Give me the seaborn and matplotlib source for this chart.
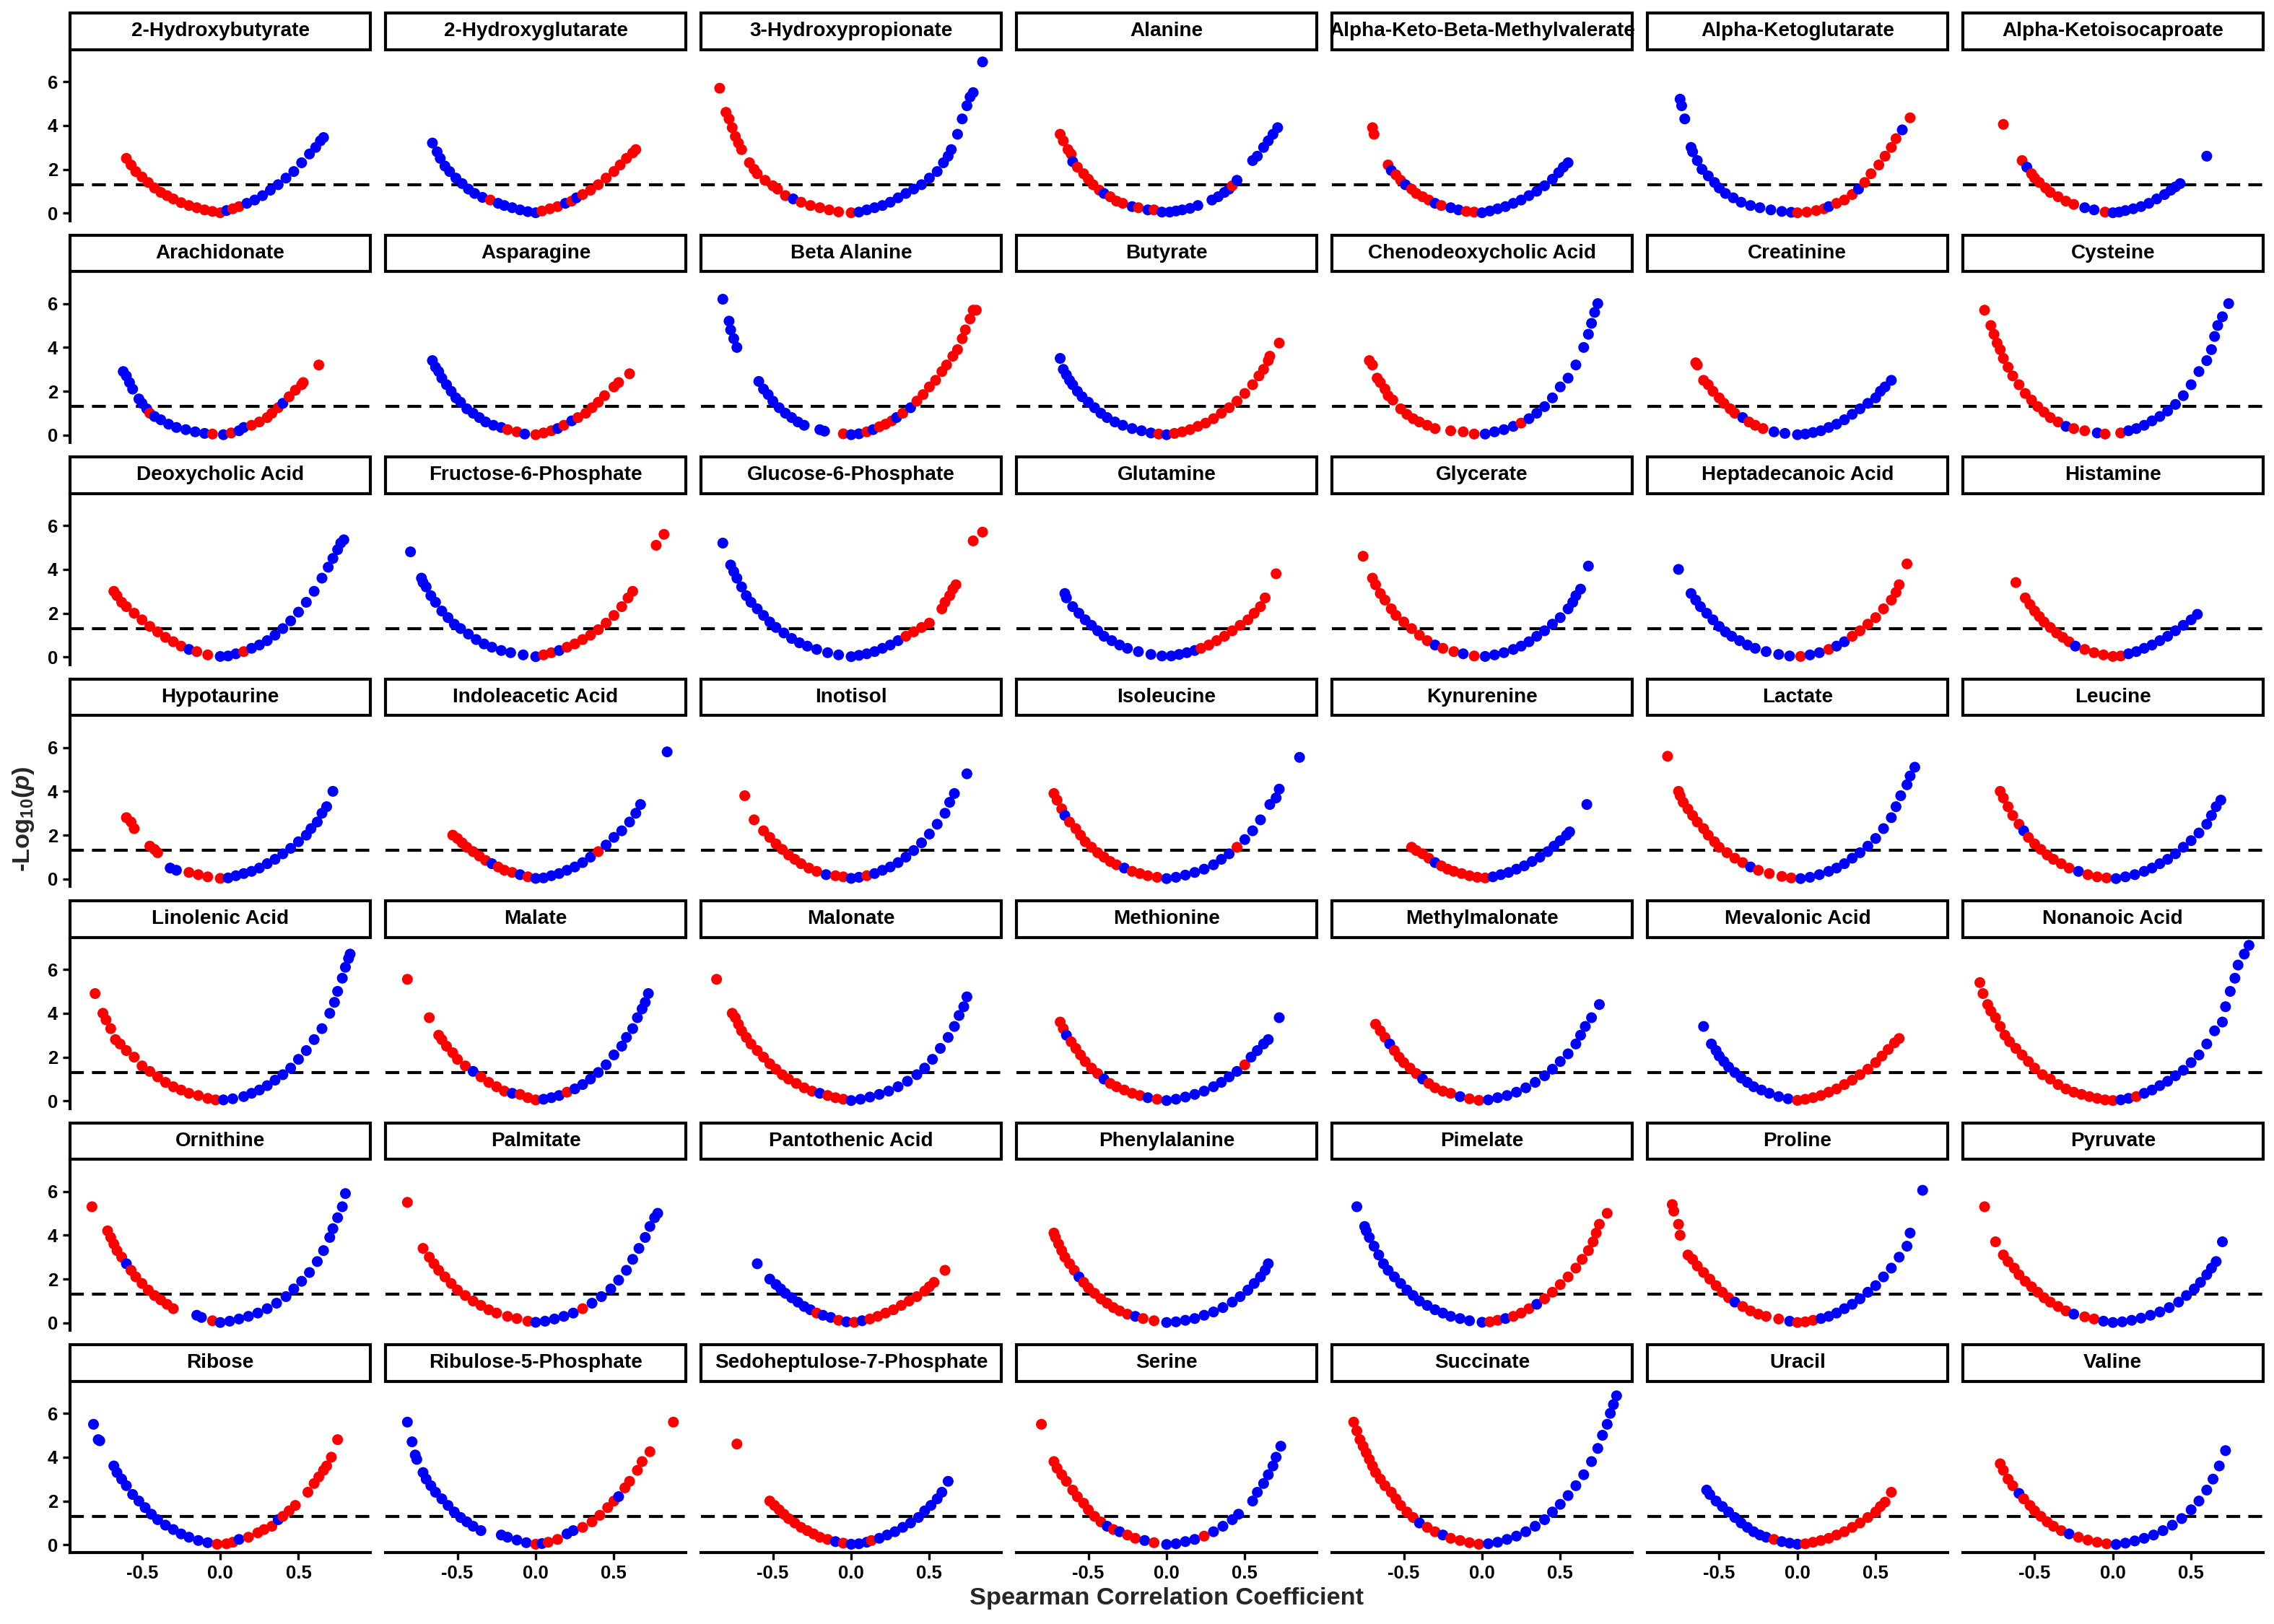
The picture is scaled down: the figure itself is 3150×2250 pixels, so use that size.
import pandas as pd
import numpy as np
import matplotlib
matplotlib.use("Agg")
import matplotlib.pyplot as plt
from matplotlib.patches import Rectangle
import seaborn as sns

# (spearman r, -log10 p, colour group), one list per metabolite
hydroxybutyrate = [
    (-0.60, 2.50, 'r'), (-0.57, 2.20, 'r'), (-0.54, 1.90, 'r'), (-0.50, 1.65, 'r'), (-0.46, 1.40, 'r'),
    (-0.42, 1.15, 'r'), (-0.38, 0.95, 'r'), (-0.34, 0.80, 'r'), (-0.30, 0.65, 'r'), (-0.25, 0.48, 'r'),
    (-0.20, 0.35, 'r'), (-0.15, 0.25, 'r'), (-0.10, 0.15, 'r'), (-0.05, 0.08, 'r'), (0.00, 0.02, 'r'),
    (0.04, 0.12, 'b'), (0.08, 0.20, 'r'), (0.12, 0.30, 'r'), (0.17, 0.45, 'b'), (0.22, 0.60, 'b'),
    (0.27, 0.80, 'b'), (0.32, 1.05, 'b'), (0.37, 1.30, 'b'), (0.42, 1.60, 'b'), (0.47, 1.90, 'b'),
    (0.52, 2.30, 'b'), (0.57, 2.70, 'b'), (0.61, 3.00, 'b'), (0.64, 3.30, 'b'), (0.66, 3.45, 'b'),
]
hydroxyglutarate = [
    (-0.66, 3.20, 'b'), (-0.63, 2.80, 'b'), (-0.61, 2.50, 'b'), (-0.58, 2.15, 'b'), (-0.55, 1.90, 'b'),
    (-0.51, 1.60, 'b'), (-0.47, 1.35, 'b'), (-0.43, 1.10, 'b'), (-0.39, 0.90, 'b'), (-0.34, 0.72, 'b'),
    (-0.29, 0.60, 'r'), (-0.24, 0.45, 'b'), (-0.20, 0.35, 'b'), (-0.15, 0.25, 'b'), (-0.10, 0.15, 'b'),
    (-0.05, 0.07, 'b'), (0.00, 0.02, 'b'), (0.04, 0.10, 'r'), (0.09, 0.20, 'r'), (0.14, 0.30, 'r'),
    (0.19, 0.45, 'b'), (0.23, 0.55, 'r'), (0.26, 0.70, 'b'), (0.30, 0.85, 'r'), (0.35, 1.05, 'r'),
    (0.40, 1.30, 'r'), (0.45, 1.60, 'r'), (0.50, 1.90, 'r'), (0.54, 2.20, 'r'), (0.58, 2.50, 'r'),
    (0.62, 2.75, 'r'), (0.64, 2.90, 'r'),
]
hydroxypropionate = [
    (-0.84, 5.70, 'r'), (-0.80, 4.60, 'r'), (-0.78, 4.30, 'r'), (-0.76, 3.90, 'r'), (-0.74, 3.50, 'r'),
    (-0.72, 3.20, 'r'), (-0.70, 2.90, 'r'), (-0.65, 2.30, 'r'), (-0.62, 2.00, 'r'), (-0.60, 1.80, 'r'),
    (-0.55, 1.50, 'r'), (-0.50, 1.25, 'r'), (-0.47, 1.10, 'r'), (-0.42, 0.80, 'r'), (-0.37, 0.65, 'b'),
    (-0.32, 0.50, 'r'), (-0.26, 0.35, 'r'), (-0.20, 0.25, 'r'), (-0.14, 0.15, 'r'), (-0.08, 0.06, 'r'),
    (0.00, 0.02, 'r'), (0.05, 0.05, 'b'), (0.10, 0.15, 'b'), (0.15, 0.25, 'b'), (0.20, 0.35, 'b'),
    (0.25, 0.50, 'b'), (0.30, 0.70, 'b'), (0.35, 0.90, 'b'), (0.40, 1.10, 'b'), (0.45, 1.30, 'b'),
    (0.50, 1.60, 'b'), (0.55, 1.90, 'b'), (0.59, 2.30, 'b'), (0.62, 2.60, 'b'), (0.64, 2.90, 'b'),
    (0.68, 3.60, 'b'), (0.71, 4.30, 'b'), (0.74, 4.90, 'b'), (0.76, 5.30, 'b'), (0.78, 5.50, 'b'),
    (0.84, 6.90, 'b'),
]
alanine = [
    (-0.68, 3.60, 'r'), (-0.66, 3.30, 'r'), (-0.63, 2.90, 'r'), (-0.61, 2.70, 'r'), (-0.60, 2.35, 'b'),
    (-0.57, 2.10, 'r'), (-0.53, 1.80, 'r'), (-0.50, 1.55, 'r'), (-0.47, 1.30, 'r'), (-0.43, 1.05, 'r'),
    (-0.40, 0.90, 'b'), (-0.36, 0.75, 'r'), (-0.32, 0.55, 'r'), (-0.28, 0.45, 'r'), (-0.22, 0.30, 'b'),
    (-0.18, 0.25, 'r'), (-0.12, 0.15, 'b'), (-0.08, 0.15, 'r'), (-0.03, 0.05, 'b'), (0.02, 0.05, 'b'),
    (0.06, 0.10, 'b'), (0.10, 0.15, 'b'), (0.15, 0.22, 'b'), (0.20, 0.35, 'b'), (0.29, 0.60, 'b'),
    (0.33, 0.75, 'b'), (0.37, 0.95, 'b'), (0.40, 1.10, 'b'), (0.42, 1.25, 'r'), (0.45, 1.50, 'b'),
    (0.55, 2.40, 'b'), (0.58, 2.60, 'b'), (0.62, 3.00, 'b'), (0.65, 3.30, 'b'), (0.68, 3.60, 'b'),
    (0.71, 3.90, 'b'),
]
akbmv = [
    (-0.70, 3.90, 'r'), (-0.69, 3.60, 'r'), (-0.60, 2.20, 'r'), (-0.58, 1.95, 'b'), (-0.55, 1.75, 'r'),
    (-0.52, 1.50, 'r'), (-0.49, 1.30, 'b'), (-0.45, 1.10, 'r'), (-0.42, 0.90, 'r'), (-0.38, 0.75, 'r'),
    (-0.34, 0.60, 'r'), (-0.30, 0.45, 'b'), (-0.26, 0.35, 'r'), (-0.20, 0.25, 'b'), (-0.15, 0.15, 'b'),
    (-0.10, 0.08, 'r'), (-0.05, 0.05, 'r'), (0.00, 0.02, 'b'), (0.05, 0.10, 'b'), (0.10, 0.20, 'b'),
    (0.15, 0.30, 'b'), (0.20, 0.45, 'b'), (0.25, 0.60, 'b'), (0.30, 0.80, 'b'), (0.35, 1.00, 'b'),
    (0.40, 1.25, 'b'), (0.45, 1.55, 'b'), (0.49, 1.85, 'b'), (0.52, 2.10, 'b'), (0.55, 2.30, 'b'),
]
akg = [
    (-0.75, 5.20, 'b'), (-0.74, 4.90, 'b'), (-0.72, 4.30, 'b'), (-0.68, 3.00, 'b'), (-0.67, 2.80, 'b'),
    (-0.64, 2.40, 'b'), (-0.61, 2.00, 'b'), (-0.57, 1.70, 'b'), (-0.53, 1.40, 'b'), (-0.50, 1.15, 'b'),
    (-0.46, 0.90, 'b'), (-0.41, 0.70, 'b'), (-0.36, 0.50, 'b'), (-0.30, 0.35, 'b'), (-0.24, 0.25, 'b'),
    (-0.17, 0.15, 'b'), (-0.10, 0.08, 'b'), (-0.04, 0.04, 'b'), (0.00, 0.02, 'r'), (0.06, 0.05, 'r'),
    (0.12, 0.12, 'r'), (0.17, 0.20, 'r'), (0.20, 0.30, 'b'), (0.25, 0.45, 'r'), (0.30, 0.60, 'r'),
    (0.35, 0.85, 'r'), (0.39, 1.10, 'b'), (0.43, 1.40, 'r'), (0.47, 1.80, 'r'), (0.52, 2.20, 'r'),
    (0.56, 2.60, 'r'), (0.60, 3.00, 'r'), (0.63, 3.40, 'r'), (0.67, 3.80, 'b'), (0.72, 4.35, 'r'),
]
akic = [
    (-0.70, 4.05, 'r'), (-0.58, 2.40, 'r'), (-0.55, 2.10, 'b'), (-0.52, 1.80, 'r'), (-0.50, 1.60, 'r'),
    (-0.47, 1.40, 'r'), (-0.43, 1.15, 'r'), (-0.40, 0.95, 'r'), (-0.35, 0.75, 'r'), (-0.30, 0.55, 'r'),
    (-0.25, 0.40, 'r'), (-0.18, 0.25, 'b'), (-0.12, 0.15, 'b'), (-0.05, 0.05, 'r'), (0.00, 0.02, 'b'),
    (0.04, 0.05, 'b'), (0.08, 0.12, 'b'), (0.13, 0.20, 'b'), (0.18, 0.30, 'b'), (0.23, 0.45, 'b'),
    (0.28, 0.65, 'b'), (0.33, 0.85, 'b'), (0.37, 1.05, 'b'), (0.40, 1.20, 'b'), (0.43, 1.35, 'b'),
    (0.60, 2.60, 'b'),
]
arachidonate = [
    (-0.62, 2.90, 'b'), (-0.60, 2.70, 'b'), (-0.58, 2.40, 'b'), (-0.56, 2.10, 'b'), (-0.52, 1.65, 'b'),
    (-0.50, 1.45, 'b'), (-0.47, 1.20, 'b'), (-0.45, 1.00, 'r'), (-0.42, 0.85, 'b'), (-0.38, 0.70, 'b'),
    (-0.33, 0.50, 'b'), (-0.28, 0.35, 'b'), (-0.22, 0.25, 'b'), (-0.16, 0.15, 'b'), (-0.10, 0.08, 'b'),
    (-0.05, 0.05, 'r'), (0.02, 0.02, 'b'), (0.07, 0.10, 'r'), (0.12, 0.20, 'b'), (0.15, 0.35, 'b'),
    (0.20, 0.45, 'r'), (0.25, 0.60, 'r'), (0.30, 0.80, 'r'), (0.33, 1.00, 'r'), (0.37, 1.25, 'r'),
    (0.40, 1.45, 'b'), (0.44, 1.75, 'r'), (0.48, 2.05, 'r'), (0.52, 2.30, 'r'), (0.53, 2.40, 'r'),
    (0.63, 3.20, 'r'),
]
asparagine = [
    (-0.66, 3.40, 'b'), (-0.64, 3.10, 'b'), (-0.62, 2.90, 'b'), (-0.60, 2.60, 'b'), (-0.57, 2.30, 'b'),
    (-0.54, 2.00, 'b'), (-0.51, 1.70, 'b'), (-0.48, 1.50, 'b'), (-0.44, 1.20, 'b'), (-0.40, 1.00, 'b'),
    (-0.36, 0.80, 'b'), (-0.32, 0.60, 'b'), (-0.27, 0.45, 'b'), (-0.22, 0.35, 'b'), (-0.18, 0.25, 'r'),
    (-0.12, 0.15, 'r'), (-0.07, 0.05, 'b'), (0.00, 0.02, 'r'), (0.05, 0.10, 'r'), (0.10, 0.20, 'r'),
    (0.14, 0.30, 'b'), (0.18, 0.45, 'r'), (0.23, 0.65, 'b'), (0.27, 0.80, 'r'), (0.32, 1.00, 'r'),
    (0.36, 1.25, 'r'), (0.40, 1.50, 'r'), (0.44, 1.80, 'r'), (0.50, 2.20, 'r'), (0.53, 2.40, 'r'),
    (0.60, 2.80, 'r'),
]
beta_alanine = [
    (-0.82, 6.20, 'b'), (-0.78, 5.20, 'b'), (-0.77, 4.80, 'b'), (-0.75, 4.40, 'b'), (-0.73, 4.00, 'b'),
    (-0.59, 2.45, 'b'), (-0.56, 2.10, 'b'), (-0.53, 1.85, 'b'), (-0.50, 1.55, 'b'), (-0.46, 1.25, 'b'),
    (-0.42, 1.00, 'b'), (-0.38, 0.80, 'b'), (-0.34, 0.60, 'b'), (-0.30, 0.45, 'b'), (-0.20, 0.25, 'b'),
    (-0.17, 0.18, 'b'), (-0.05, 0.06, 'r'), (0.00, 0.02, 'b'), (0.05, 0.06, 'b'), (0.10, 0.15, 'r'),
    (0.14, 0.25, 'b'), (0.18, 0.38, 'r'), (0.22, 0.50, 'r'), (0.26, 0.65, 'r'), (0.29, 0.80, 'b'),
    (0.33, 1.00, 'r'), (0.38, 1.25, 'b'), (0.42, 1.55, 'r'), (0.46, 1.85, 'r'), (0.50, 2.20, 'r'),
    (0.54, 2.50, 'r'), (0.58, 2.90, 'r'), (0.61, 3.20, 'r'), (0.65, 3.60, 'r'), (0.68, 3.90, 'r'),
    (0.71, 4.40, 'r'), (0.73, 4.80, 'r'), (0.76, 5.30, 'r'), (0.78, 5.70, 'r'), (0.80, 5.70, 'r'),
]
butyrate = [
    (-0.68, 3.50, 'b'), (-0.66, 3.00, 'b'), (-0.64, 2.75, 'b'), (-0.62, 2.50, 'b'), (-0.60, 2.30, 'b'),
    (-0.57, 2.00, 'b'), (-0.54, 1.75, 'b'), (-0.50, 1.50, 'b'), (-0.46, 1.25, 'b'), (-0.42, 1.00, 'b'),
    (-0.38, 0.80, 'b'), (-0.33, 0.60, 'b'), (-0.28, 0.45, 'b'), (-0.22, 0.30, 'b'), (-0.16, 0.20, 'b'),
    (-0.10, 0.10, 'b'), (-0.05, 0.05, 'r'), (0.00, 0.02, 'b'), (0.05, 0.08, 'r'), (0.10, 0.15, 'r'),
    (0.15, 0.25, 'r'), (0.20, 0.40, 'r'), (0.25, 0.55, 'r'), (0.30, 0.75, 'r'), (0.35, 1.00, 'r'),
    (0.40, 1.25, 'r'), (0.45, 1.55, 'r'), (0.50, 1.90, 'r'), (0.55, 2.30, 'r'), (0.59, 2.70, 'r'),
    (0.62, 3.00, 'r'), (0.65, 3.40, 'r'), (0.66, 3.60, 'r'), (0.72, 4.20, 'r'),
]
cdca = [
    (-0.72, 3.40, 'r'), (-0.70, 3.20, 'r'), (-0.67, 2.60, 'r'), (-0.65, 2.40, 'r'), (-0.62, 2.10, 'r'),
    (-0.60, 1.80, 'r'), (-0.57, 1.60, 'r'), (-0.52, 1.20, 'r'), (-0.48, 0.95, 'r'), (-0.44, 0.75, 'r'),
    (-0.40, 0.60, 'r'), (-0.35, 0.45, 'r'), (-0.30, 0.30, 'r'), (-0.20, 0.20, 'r'), (-0.12, 0.15, 'r'),
    (-0.05, 0.05, 'r'), (0.02, 0.05, 'b'), (0.08, 0.15, 'b'), (0.14, 0.25, 'b'), (0.20, 0.40, 'b'),
    (0.25, 0.55, 'r'), (0.30, 0.75, 'b'), (0.35, 1.00, 'b'), (0.40, 1.30, 'b'), (0.45, 1.70, 'b'),
    (0.50, 2.20, 'b'), (0.55, 2.60, 'b'), (0.60, 3.20, 'b'), (0.65, 4.00, 'b'), (0.68, 4.60, 'b'),
    (0.70, 5.10, 'b'), (0.72, 5.60, 'b'), (0.74, 6.00, 'b'),
]
creatinine = [
    (-0.65, 3.30, 'r'), (-0.64, 3.20, 'r'), (-0.60, 2.50, 'r'), (-0.57, 2.30, 'r'), (-0.54, 2.00, 'r'),
    (-0.50, 1.70, 'r'), (-0.47, 1.45, 'r'), (-0.43, 1.20, 'r'), (-0.40, 1.00, 'r'), (-0.35, 0.80, 'b'),
    (-0.31, 0.60, 'r'), (-0.27, 0.45, 'r'), (-0.22, 0.30, 'r'), (-0.15, 0.15, 'b'), (-0.08, 0.08, 'b'),
    (0.00, 0.02, 'b'), (0.05, 0.05, 'b'), (0.10, 0.12, 'b'), (0.15, 0.20, 'b'), (0.20, 0.35, 'b'),
    (0.25, 0.50, 'b'), (0.30, 0.70, 'b'), (0.35, 0.95, 'b'), (0.40, 1.20, 'b'), (0.45, 1.45, 'b'),
    (0.50, 1.70, 'b'), (0.53, 2.00, 'b'), (0.56, 2.20, 'b'), (0.60, 2.50, 'b'),
]
cysteine = [
    (-0.82, 5.70, 'r'), (-0.78, 5.00, 'r'), (-0.76, 4.60, 'r'), (-0.74, 4.20, 'r'), (-0.72, 3.90, 'r'),
    (-0.70, 3.50, 'r'), (-0.67, 3.10, 'r'), (-0.64, 2.70, 'r'), (-0.60, 2.30, 'r'), (-0.56, 1.90, 'r'),
    (-0.52, 1.60, 'r'), (-0.48, 1.30, 'r'), (-0.44, 1.05, 'r'), (-0.40, 0.80, 'r'), (-0.35, 0.60, 'r'),
    (-0.30, 0.40, 'b'), (-0.25, 0.30, 'r'), (-0.18, 0.20, 'r'), (-0.10, 0.10, 'b'), (-0.05, 0.05, 'r'),
    (0.05, 0.10, 'r'), (0.10, 0.20, 'b'), (0.15, 0.30, 'b'), (0.20, 0.45, 'b'), (0.25, 0.65, 'b'),
    (0.30, 0.85, 'b'), (0.35, 1.10, 'b'), (0.40, 1.40, 'b'), (0.45, 1.80, 'b'), (0.50, 2.30, 'b'),
    (0.55, 2.90, 'b'), (0.60, 3.40, 'b'), (0.63, 3.90, 'b'), (0.65, 4.50, 'b'), (0.67, 5.00, 'b'),
    (0.70, 5.40, 'b'), (0.74, 6.00, 'b'),
]
dca = [
    (-0.68, 3.00, 'r'), (-0.66, 2.80, 'r'), (-0.63, 2.50, 'r'), (-0.60, 2.30, 'r'), (-0.55, 2.00, 'r'),
    (-0.50, 1.70, 'r'), (-0.45, 1.40, 'r'), (-0.40, 1.15, 'r'), (-0.35, 0.90, 'r'), (-0.30, 0.70, 'r'),
    (-0.25, 0.50, 'r'), (-0.20, 0.35, 'b'), (-0.15, 0.25, 'r'), (-0.08, 0.10, 'r'), (0.00, 0.03, 'b'),
    (0.05, 0.05, 'b'), (0.10, 0.15, 'b'), (0.15, 0.25, 'r'), (0.20, 0.40, 'b'), (0.25, 0.55, 'b'),
    (0.30, 0.75, 'b'), (0.35, 1.00, 'b'), (0.40, 1.30, 'b'), (0.45, 1.65, 'b'), (0.50, 2.05, 'b'),
    (0.55, 2.50, 'b'), (0.60, 3.00, 'b'), (0.65, 3.60, 'b'), (0.69, 4.10, 'b'), (0.72, 4.50, 'b'),
    (0.75, 4.90, 'b'), (0.77, 5.20, 'b'), (0.79, 5.35, 'b'),
]
f6p = [
    (-0.80, 4.80, 'b'), (-0.73, 3.60, 'b'), (-0.72, 3.40, 'b'), (-0.70, 3.20, 'b'), (-0.67, 2.80, 'b'),
    (-0.64, 2.50, 'b'), (-0.60, 2.10, 'b'), (-0.56, 1.80, 'b'), (-0.52, 1.50, 'b'), (-0.48, 1.30, 'b'),
    (-0.43, 1.05, 'b'), (-0.38, 0.80, 'b'), (-0.33, 0.60, 'b'), (-0.28, 0.45, 'b'), (-0.22, 0.30, 'b'),
    (-0.16, 0.20, 'b'), (-0.08, 0.10, 'b'), (0.00, 0.02, 'b'), (0.05, 0.10, 'r'), (0.10, 0.20, 'r'),
    (0.15, 0.30, 'b'), (0.20, 0.45, 'r'), (0.25, 0.60, 'r'), (0.30, 0.80, 'r'), (0.35, 1.00, 'r'),
    (0.40, 1.25, 'r'), (0.45, 1.55, 'r'), (0.50, 1.90, 'r'), (0.55, 2.30, 'r'), (0.59, 2.70, 'r'),
    (0.62, 3.00, 'r'), (0.77, 5.10, 'r'), (0.82, 5.60, 'r'),
]
g6p = [
    (-0.82, 5.20, 'b'), (-0.77, 4.20, 'b'), (-0.75, 3.90, 'b'), (-0.73, 3.60, 'b'), (-0.70, 3.20, 'b'),
    (-0.67, 2.80, 'b'), (-0.64, 2.50, 'b'), (-0.60, 2.20, 'b'), (-0.56, 1.90, 'b'), (-0.52, 1.60, 'b'),
    (-0.48, 1.35, 'b'), (-0.43, 1.10, 'b'), (-0.38, 0.85, 'b'), (-0.33, 0.65, 'b'), (-0.28, 0.50, 'b'),
    (-0.22, 0.35, 'b'), (-0.15, 0.20, 'b'), (-0.08, 0.10, 'b'), (0.00, 0.02, 'b'), (0.05, 0.08, 'b'),
    (0.10, 0.15, 'b'), (0.15, 0.25, 'b'), (0.20, 0.40, 'b'), (0.25, 0.55, 'b'), (0.30, 0.75, 'b'),
    (0.35, 0.95, 'r'), (0.40, 1.15, 'r'), (0.45, 1.35, 'r'), (0.50, 1.55, 'r'), (0.58, 2.20, 'r'),
    (0.60, 2.50, 'r'), (0.63, 2.80, 'r'), (0.65, 3.10, 'r'), (0.67, 3.30, 'r'), (0.78, 5.30, 'r'),
    (0.84, 5.70, 'r'),
]
glutamine = [
    (-0.65, 2.90, 'b'), (-0.64, 2.70, 'b'), (-0.60, 2.30, 'b'), (-0.56, 2.00, 'b'), (-0.52, 1.70, 'b'),
    (-0.48, 1.45, 'b'), (-0.44, 1.20, 'b'), (-0.40, 0.95, 'b'), (-0.35, 0.75, 'b'), (-0.30, 0.55, 'b'),
    (-0.25, 0.40, 'b'), (-0.18, 0.25, 'b'), (-0.10, 0.12, 'b'), (-0.03, 0.05, 'b'), (0.03, 0.05, 'b'),
    (0.08, 0.12, 'b'), (0.13, 0.20, 'b'), (0.18, 0.30, 'b'), (0.22, 0.40, 'r'), (0.27, 0.55, 'r'),
    (0.32, 0.75, 'r'), (0.37, 0.95, 'r'), (0.42, 1.20, 'r'), (0.47, 1.45, 'r'), (0.52, 1.70, 'r'),
    (0.56, 2.00, 'r'), (0.60, 2.30, 'r'), (0.63, 2.70, 'r'), (0.70, 3.80, 'r'),
]
glycerate = [
    (-0.76, 4.60, 'r'), (-0.70, 3.60, 'r'), (-0.68, 3.30, 'r'), (-0.65, 2.90, 'r'), (-0.62, 2.60, 'r'),
    (-0.58, 2.20, 'r'), (-0.55, 1.90, 'r'), (-0.50, 1.60, 'r'), (-0.45, 1.30, 'r'), (-0.40, 1.00, 'r'),
    (-0.35, 0.75, 'r'), (-0.30, 0.55, 'b'), (-0.25, 0.40, 'r'), (-0.18, 0.25, 'r'), (-0.12, 0.15, 'b'),
    (-0.05, 0.05, 'r'), (0.02, 0.03, 'b'), (0.08, 0.10, 'b'), (0.14, 0.20, 'b'), (0.20, 0.35, 'b'),
    (0.25, 0.50, 'b'), (0.30, 0.70, 'b'), (0.35, 0.95, 'b'), (0.40, 1.20, 'b'), (0.45, 1.50, 'b'),
    (0.50, 1.80, 'b'), (0.55, 2.20, 'b'), (0.58, 2.50, 'b'), (0.60, 2.80, 'b'), (0.63, 3.10, 'b'),
    (0.68, 4.15, 'b'),
]
heptadecanoic = [
    (-0.76, 4.00, 'b'), (-0.68, 2.90, 'b'), (-0.65, 2.60, 'b'), (-0.62, 2.30, 'b'), (-0.58, 2.00, 'b'),
    (-0.54, 1.70, 'b'), (-0.50, 1.40, 'b'), (-0.46, 1.15, 'b'), (-0.42, 0.95, 'b'), (-0.37, 0.75, 'b'),
    (-0.32, 0.55, 'b'), (-0.27, 0.40, 'b'), (-0.20, 0.25, 'b'), (-0.12, 0.12, 'b'), (-0.05, 0.05, 'b'),
    (0.02, 0.03, 'r'), (0.08, 0.10, 'b'), (0.14, 0.20, 'b'), (0.20, 0.35, 'r'), (0.25, 0.50, 'b'),
    (0.30, 0.70, 'b'), (0.35, 0.95, 'r'), (0.40, 1.20, 'r'), (0.45, 1.50, 'r'), (0.50, 1.80, 'r'),
    (0.55, 2.20, 'r'), (0.60, 2.60, 'r'), (0.63, 2.95, 'r'), (0.65, 3.30, 'r'), (0.70, 4.25, 'r'),
]
histamine = [
    (-0.62, 3.40, 'r'), (-0.56, 2.70, 'r'), (-0.53, 2.40, 'r'), (-0.50, 2.10, 'r'), (-0.47, 1.85, 'r'),
    (-0.44, 1.60, 'r'), (-0.40, 1.35, 'r'), (-0.36, 1.10, 'r'), (-0.32, 0.90, 'r'), (-0.28, 0.70, 'r'),
    (-0.24, 0.50, 'b'), (-0.18, 0.35, 'r'), (-0.12, 0.20, 'r'), (-0.06, 0.10, 'r'), (0.00, 0.03, 'r'),
    (0.05, 0.05, 'r'), (0.10, 0.15, 'b'), (0.15, 0.25, 'b'), (0.20, 0.40, 'b'), (0.25, 0.55, 'b'),
    (0.30, 0.75, 'b'), (0.35, 0.95, 'b'), (0.40, 1.20, 'b'), (0.45, 1.45, 'b'), (0.50, 1.70, 'b'),
    (0.54, 1.95, 'b'),
]
hypotaurine = [
    (-0.60, 2.80, 'r'), (-0.57, 2.60, 'r'), (-0.55, 2.30, 'r'), (-0.45, 1.50, 'r'), (-0.42, 1.35, 'r'),
    (-0.40, 1.20, 'r'), (-0.32, 0.50, 'b'), (-0.28, 0.40, 'b'), (-0.20, 0.30, 'r'), (-0.14, 0.20, 'r'),
    (-0.08, 0.10, 'r'), (0.00, 0.03, 'r'), (0.05, 0.05, 'b'), (0.10, 0.15, 'b'), (0.15, 0.25, 'b'),
    (0.20, 0.35, 'b'), (0.25, 0.50, 'b'), (0.30, 0.70, 'b'), (0.35, 0.90, 'b'), (0.40, 1.15, 'b'),
    (0.45, 1.40, 'b'), (0.50, 1.70, 'b'), (0.55, 2.00, 'b'), (0.58, 2.30, 'b'), (0.62, 2.60, 'b'),
    (0.65, 3.00, 'b'), (0.68, 3.30, 'b'), (0.72, 4.00, 'b'),
]
iaa = [
    (-0.53, 2.00, 'r'), (-0.50, 1.85, 'r'), (-0.47, 1.65, 'r'), (-0.44, 1.45, 'r'), (-0.40, 1.25, 'r'),
    (-0.36, 1.05, 'r'), (-0.32, 0.85, 'r'), (-0.28, 0.70, 'b'), (-0.24, 0.55, 'r'), (-0.20, 0.40, 'r'),
    (-0.15, 0.30, 'r'), (-0.10, 0.20, 'b'), (-0.05, 0.10, 'r'), (0.00, 0.03, 'b'), (0.05, 0.05, 'b'),
    (0.10, 0.15, 'b'), (0.15, 0.25, 'b'), (0.20, 0.40, 'b'), (0.25, 0.55, 'b'), (0.30, 0.75, 'b'),
    (0.35, 1.00, 'b'), (0.40, 1.25, 'r'), (0.45, 1.55, 'b'), (0.50, 1.90, 'b'), (0.55, 2.20, 'b'),
    (0.60, 2.60, 'b'), (0.64, 3.00, 'b'), (0.67, 3.40, 'b'), (0.84, 5.80, 'b'),
]
inotisol = [
    (-0.68, 3.80, 'r'), (-0.62, 2.70, 'r'), (-0.56, 2.20, 'r'), (-0.52, 1.90, 'r'), (-0.48, 1.60, 'r'),
    (-0.44, 1.35, 'r'), (-0.40, 1.10, 'r'), (-0.36, 0.90, 'r'), (-0.32, 0.70, 'r'), (-0.27, 0.50, 'r'),
    (-0.22, 0.35, 'r'), (-0.16, 0.20, 'b'), (-0.10, 0.15, 'r'), (-0.05, 0.10, 'r'), (0.00, 0.03, 'b'),
    (0.05, 0.08, 'b'), (0.10, 0.15, 'r'), (0.15, 0.25, 'b'), (0.20, 0.40, 'b'), (0.25, 0.55, 'b'),
    (0.30, 0.75, 'b'), (0.35, 1.00, 'b'), (0.40, 1.30, 'b'), (0.45, 1.65, 'b'), (0.50, 2.05, 'b'),
    (0.55, 2.50, 'b'), (0.60, 3.00, 'b'), (0.63, 3.50, 'b'), (0.66, 3.90, 'b'), (0.74, 4.80, 'b'),
]
isoleucine = [
    (-0.72, 3.90, 'r'), (-0.70, 3.60, 'r'), (-0.67, 3.20, 'r'), (-0.65, 2.90, 'b'), (-0.62, 2.60, 'r'),
    (-0.58, 2.30, 'r'), (-0.55, 2.00, 'r'), (-0.52, 1.70, 'r'), (-0.48, 1.45, 'r'), (-0.44, 1.20, 'r'),
    (-0.40, 1.00, 'r'), (-0.36, 0.80, 'r'), (-0.32, 0.65, 'r'), (-0.27, 0.50, 'b'), (-0.22, 0.35, 'r'),
    (-0.17, 0.25, 'r'), (-0.12, 0.15, 'r'), (-0.06, 0.08, 'r'), (0.00, 0.02, 'b'), (0.06, 0.08, 'b'),
    (0.12, 0.18, 'b'), (0.18, 0.30, 'b'), (0.24, 0.45, 'b'), (0.30, 0.65, 'b'), (0.35, 0.90, 'b'),
    (0.40, 1.15, 'b'), (0.45, 1.45, 'r'), (0.50, 1.80, 'b'), (0.55, 2.20, 'b'), (0.60, 2.70, 'b'),
    (0.66, 3.40, 'b'), (0.70, 3.70, 'b'), (0.72, 4.10, 'b'), (0.85, 5.55, 'b'),
]
kynurenine = [
    (-0.45, 1.45, 'r'), (-0.42, 1.30, 'r'), (-0.38, 1.15, 'r'), (-0.34, 0.95, 'r'), (-0.30, 0.75, 'b'),
    (-0.26, 0.60, 'r'), (-0.22, 0.45, 'r'), (-0.18, 0.35, 'r'), (-0.13, 0.25, 'r'), (-0.08, 0.15, 'r'),
    (-0.03, 0.08, 'r'), (0.02, 0.05, 'r'), (0.07, 0.10, 'b'), (0.12, 0.20, 'b'), (0.17, 0.30, 'b'),
    (0.22, 0.45, 'b'), (0.27, 0.60, 'b'), (0.32, 0.80, 'b'), (0.37, 1.00, 'b'), (0.42, 1.25, 'b'),
    (0.46, 1.50, 'b'), (0.50, 1.75, 'b'), (0.54, 2.00, 'b'), (0.56, 2.15, 'b'), (0.67, 3.40, 'b'),
]
lactate = [
    (-0.83, 5.60, 'r'), (-0.76, 4.00, 'r'), (-0.75, 3.80, 'r'), (-0.73, 3.50, 'r'), (-0.70, 3.20, 'r'),
    (-0.67, 2.90, 'r'), (-0.64, 2.60, 'r'), (-0.60, 2.30, 'r'), (-0.57, 2.00, 'r'), (-0.53, 1.70, 'r'),
    (-0.50, 1.45, 'r'), (-0.45, 1.20, 'r'), (-0.40, 0.95, 'r'), (-0.35, 0.75, 'r'), (-0.30, 0.55, 'b'),
    (-0.25, 0.40, 'r'), (-0.18, 0.25, 'r'), (-0.10, 0.12, 'r'), (-0.04, 0.05, 'r'), (0.02, 0.02, 'b'),
    (0.08, 0.08, 'b'), (0.14, 0.20, 'b'), (0.20, 0.35, 'b'), (0.25, 0.50, 'b'), (0.30, 0.70, 'b'),
    (0.35, 0.95, 'b'), (0.40, 1.20, 'b'), (0.45, 1.50, 'b'), (0.50, 1.85, 'b'), (0.55, 2.30, 'b'),
    (0.60, 2.80, 'b'), (0.63, 3.30, 'b'), (0.66, 3.80, 'b'), (0.70, 4.30, 'b'), (0.72, 4.70, 'b'),
    (0.75, 5.10, 'b'),
]
leucine = [
    (-0.72, 4.00, 'r'), (-0.70, 3.70, 'r'), (-0.67, 3.30, 'r'), (-0.64, 2.90, 'r'), (-0.60, 2.50, 'r'),
    (-0.57, 2.20, 'b'), (-0.54, 1.90, 'r'), (-0.50, 1.60, 'r'), (-0.46, 1.35, 'r'), (-0.42, 1.10, 'r'),
    (-0.38, 0.90, 'r'), (-0.33, 0.70, 'r'), (-0.28, 0.50, 'r'), (-0.22, 0.35, 'b'), (-0.16, 0.20, 'r'),
    (-0.10, 0.10, 'r'), (-0.04, 0.05, 'r'), (0.02, 0.02, 'b'), (0.08, 0.10, 'b'), (0.14, 0.20, 'b'),
    (0.20, 0.35, 'b'), (0.25, 0.50, 'b'), (0.30, 0.70, 'b'), (0.35, 0.90, 'b'), (0.40, 1.15, 'b'),
    (0.45, 1.45, 'b'), (0.50, 1.75, 'b'), (0.55, 2.10, 'b'), (0.60, 2.50, 'b'), (0.63, 2.90, 'b'),
    (0.66, 3.30, 'b'), (0.69, 3.60, 'b'),
]
linolenic = [
    (-0.80, 4.90, 'r'), (-0.75, 4.00, 'r'), (-0.73, 3.70, 'r'), (-0.70, 3.30, 'r'), (-0.67, 2.80, 'r'),
    (-0.64, 2.60, 'r'), (-0.60, 2.30, 'r'), (-0.55, 2.00, 'r'), (-0.50, 1.60, 'r'), (-0.45, 1.35, 'r'),
    (-0.40, 1.10, 'r'), (-0.35, 0.85, 'r'), (-0.30, 0.65, 'r'), (-0.25, 0.50, 'r'), (-0.20, 0.35, 'r'),
    (-0.14, 0.25, 'r'), (-0.08, 0.12, 'r'), (-0.03, 0.05, 'r'), (0.02, 0.05, 'b'), (0.08, 0.10, 'b'),
    (0.15, 0.20, 'b'), (0.20, 0.35, 'b'), (0.25, 0.50, 'b'), (0.30, 0.70, 'b'), (0.35, 0.95, 'b'),
    (0.40, 1.20, 'b'), (0.45, 1.50, 'b'), (0.50, 1.90, 'b'), (0.55, 2.30, 'b'), (0.60, 2.80, 'b'),
    (0.65, 3.30, 'b'), (0.70, 4.00, 'b'), (0.73, 4.50, 'b'), (0.75, 5.00, 'b'), (0.78, 5.60, 'b'),
    (0.80, 6.10, 'b'), (0.82, 6.50, 'b'), (0.83, 6.70, 'b'),
]
malate = [
    (-0.82, 5.55, 'r'), (-0.68, 3.80, 'r'), (-0.62, 3.00, 'r'), (-0.60, 2.80, 'r'), (-0.57, 2.50, 'r'),
    (-0.53, 2.20, 'r'), (-0.50, 1.90, 'r'), (-0.45, 1.60, 'r'), (-0.40, 1.35, 'b'), (-0.35, 1.10, 'r'),
    (-0.30, 0.85, 'r'), (-0.25, 0.65, 'r'), (-0.20, 0.45, 'r'), (-0.15, 0.35, 'b'), (-0.10, 0.30, 'r'),
    (-0.05, 0.15, 'r'), (0.00, 0.05, 'r'), (0.05, 0.08, 'b'), (0.10, 0.15, 'b'), (0.15, 0.25, 'b'),
    (0.20, 0.40, 'r'), (0.25, 0.55, 'b'), (0.30, 0.75, 'b'), (0.35, 1.00, 'b'), (0.40, 1.30, 'b'),
    (0.45, 1.65, 'b'), (0.50, 2.10, 'b'), (0.55, 2.50, 'b'), (0.58, 2.90, 'b'), (0.62, 3.30, 'b'),
    (0.65, 3.80, 'b'), (0.68, 4.20, 'b'), (0.70, 4.50, 'b'), (0.72, 4.90, 'b'),
]
malonate = [
    (-0.86, 5.55, 'r'), (-0.76, 4.00, 'r'), (-0.74, 3.80, 'r'), (-0.72, 3.50, 'r'), (-0.70, 3.20, 'r'),
    (-0.67, 2.90, 'r'), (-0.64, 2.60, 'r'), (-0.60, 2.30, 'r'), (-0.56, 2.00, 'r'), (-0.52, 1.70, 'r'),
    (-0.48, 1.45, 'r'), (-0.44, 1.20, 'r'), (-0.40, 1.00, 'r'), (-0.35, 0.80, 'r'), (-0.30, 0.60, 'r'),
    (-0.25, 0.45, 'r'), (-0.20, 0.35, 'b'), (-0.15, 0.25, 'r'), (-0.10, 0.15, 'r'), (-0.05, 0.08, 'r'),
    (0.00, 0.02, 'b'), (0.06, 0.08, 'b'), (0.12, 0.18, 'b'), (0.18, 0.30, 'b'), (0.24, 0.45, 'b'),
    (0.30, 0.65, 'b'), (0.36, 0.90, 'b'), (0.42, 1.20, 'b'), (0.47, 1.50, 'b'), (0.52, 1.90, 'b'),
    (0.57, 2.40, 'b'), (0.62, 2.90, 'b'), (0.66, 3.40, 'b'), (0.69, 3.90, 'b'), (0.72, 4.30, 'b'),
    (0.74, 4.75, 'b'),
]
methionine = [
    (-0.68, 3.60, 'r'), (-0.66, 3.30, 'r'), (-0.64, 3.00, 'b'), (-0.61, 2.70, 'r'), (-0.58, 2.40, 'r'),
    (-0.55, 2.10, 'r'), (-0.52, 1.80, 'r'), (-0.48, 1.50, 'r'), (-0.44, 1.25, 'r'), (-0.40, 1.00, 'b'),
    (-0.36, 0.80, 'r'), (-0.32, 0.65, 'r'), (-0.27, 0.50, 'r'), (-0.22, 0.35, 'r'), (-0.17, 0.25, 'r'),
    (-0.12, 0.15, 'b'), (-0.06, 0.08, 'r'), (0.00, 0.02, 'b'), (0.06, 0.08, 'b'), (0.12, 0.18, 'b'),
    (0.18, 0.30, 'b'), (0.24, 0.45, 'b'), (0.30, 0.65, 'b'), (0.35, 0.85, 'b'), (0.40, 1.10, 'b'),
    (0.45, 1.35, 'b'), (0.50, 1.65, 'r'), (0.54, 2.00, 'b'), (0.58, 2.30, 'b'), (0.62, 2.60, 'b'),
    (0.65, 2.80, 'b'), (0.72, 3.80, 'b'),
]
methylmalonate = [
    (-0.68, 3.50, 'r'), (-0.65, 3.20, 'r'), (-0.62, 2.90, 'r'), (-0.59, 2.60, 'b'), (-0.56, 2.30, 'r'),
    (-0.53, 2.00, 'r'), (-0.50, 1.75, 'r'), (-0.46, 1.50, 'r'), (-0.42, 1.25, 'r'), (-0.38, 1.00, 'b'),
    (-0.34, 0.80, 'r'), (-0.30, 0.60, 'r'), (-0.25, 0.45, 'r'), (-0.20, 0.35, 'r'), (-0.14, 0.20, 'b'),
    (-0.08, 0.10, 'r'), (-0.02, 0.03, 'r'), (0.04, 0.05, 'b'), (0.10, 0.15, 'b'), (0.16, 0.25, 'b'),
    (0.22, 0.40, 'b'), (0.28, 0.60, 'b'), (0.34, 0.85, 'b'), (0.40, 1.15, 'b'), (0.45, 1.45, 'b'),
    (0.50, 1.80, 'b'), (0.55, 2.15, 'b'), (0.60, 2.60, 'b'), (0.63, 3.00, 'b'), (0.66, 3.40, 'b'),
    (0.70, 3.80, 'b'), (0.75, 4.40, 'b'),
]
mevalonic = [
    (-0.60, 3.40, 'b'), (-0.55, 2.60, 'b'), (-0.52, 2.30, 'b'), (-0.50, 2.05, 'b'), (-0.47, 1.80, 'b'),
    (-0.44, 1.55, 'b'), (-0.40, 1.30, 'b'), (-0.36, 1.05, 'b'), (-0.32, 0.85, 'b'), (-0.28, 0.65, 'b'),
    (-0.23, 0.50, 'b'), (-0.18, 0.35, 'b'), (-0.12, 0.20, 'b'), (-0.06, 0.10, 'b'), (0.00, 0.03, 'r'),
    (0.05, 0.08, 'r'), (0.10, 0.15, 'r'), (0.15, 0.25, 'r'), (0.20, 0.40, 'r'), (0.25, 0.55, 'r'),
    (0.30, 0.75, 'r'), (0.35, 0.95, 'r'), (0.40, 1.20, 'r'), (0.45, 1.45, 'r'), (0.50, 1.75, 'r'),
    (0.54, 2.05, 'r'), (0.58, 2.35, 'r'), (0.62, 2.65, 'r'), (0.65, 2.85, 'r'),
]
nonanoic = [
    (-0.85, 5.40, 'r'), (-0.83, 4.90, 'r'), (-0.80, 4.40, 'r'), (-0.78, 4.10, 'r'), (-0.75, 3.80, 'r'),
    (-0.72, 3.40, 'r'), (-0.69, 3.00, 'r'), (-0.66, 2.70, 'r'), (-0.62, 2.40, 'r'), (-0.58, 2.10, 'r'),
    (-0.54, 1.80, 'r'), (-0.50, 1.50, 'r'), (-0.45, 1.20, 'r'), (-0.40, 1.00, 'r'), (-0.35, 0.75, 'r'),
    (-0.30, 0.55, 'r'), (-0.25, 0.40, 'r'), (-0.20, 0.30, 'r'), (-0.15, 0.20, 'r'), (-0.10, 0.12, 'r'),
    (-0.05, 0.05, 'r'), (0.00, 0.02, 'r'), (0.05, 0.05, 'b'), (0.10, 0.12, 'b'), (0.15, 0.20, 'r'),
    (0.20, 0.35, 'b'), (0.25, 0.50, 'b'), (0.30, 0.70, 'b'), (0.35, 0.90, 'b'), (0.40, 1.15, 'b'),
    (0.45, 1.40, 'b'), (0.50, 1.75, 'b'), (0.55, 2.10, 'b'), (0.60, 2.60, 'b'), (0.65, 3.20, 'b'),
    (0.70, 3.60, 'b'), (0.72, 4.30, 'b'), (0.75, 5.00, 'b'), (0.78, 5.60, 'b'), (0.80, 6.20, 'b'),
    (0.84, 6.70, 'b'), (0.87, 7.10, 'b'),
]
ornithine = [
    (-0.82, 5.30, 'r'), (-0.72, 4.20, 'r'), (-0.70, 3.90, 'r'), (-0.68, 3.60, 'r'), (-0.66, 3.30, 'r'),
    (-0.63, 3.00, 'r'), (-0.60, 2.70, 'b'), (-0.57, 2.40, 'r'), (-0.54, 2.10, 'r'), (-0.50, 1.80, 'r'),
    (-0.46, 1.50, 'r'), (-0.42, 1.25, 'r'), (-0.38, 1.05, 'r'), (-0.34, 0.85, 'r'), (-0.30, 0.65, 'r'),
    (-0.15, 0.35, 'b'), (-0.12, 0.25, 'b'), (-0.05, 0.10, 'r'), (0.00, 0.02, 'b'), (0.06, 0.08, 'b'),
    (0.12, 0.18, 'b'), (0.18, 0.30, 'b'), (0.24, 0.45, 'b'), (0.30, 0.65, 'b'), (0.36, 0.90, 'b'),
    (0.42, 1.20, 'b'), (0.47, 1.55, 'b'), (0.52, 1.90, 'b'), (0.57, 2.30, 'b'), (0.62, 2.80, 'b'),
    (0.66, 3.30, 'b'), (0.70, 3.90, 'b'), (0.72, 4.30, 'b'), (0.75, 4.80, 'b'), (0.78, 5.30, 'b'),
    (0.80, 5.90, 'b'),
]
palmitate = [
    (-0.82, 5.50, 'r'), (-0.72, 3.40, 'r'), (-0.68, 3.00, 'r'), (-0.65, 2.70, 'r'), (-0.62, 2.40, 'r'),
    (-0.58, 2.10, 'r'), (-0.54, 1.80, 'r'), (-0.50, 1.50, 'r'), (-0.45, 1.25, 'r'), (-0.40, 1.00, 'r'),
    (-0.35, 0.80, 'r'), (-0.30, 0.60, 'r'), (-0.25, 0.45, 'r'), (-0.18, 0.30, 'r'), (-0.12, 0.20, 'r'),
    (-0.05, 0.08, 'r'), (0.00, 0.03, 'b'), (0.06, 0.08, 'b'), (0.12, 0.18, 'b'), (0.18, 0.30, 'b'),
    (0.24, 0.45, 'b'), (0.30, 0.65, 'r'), (0.36, 0.90, 'b'), (0.42, 1.20, 'b'), (0.48, 1.55, 'b'),
    (0.53, 1.95, 'b'), (0.58, 2.40, 'b'), (0.62, 2.90, 'b'), (0.66, 3.40, 'b'), (0.70, 3.90, 'b'),
    (0.73, 4.40, 'b'), (0.76, 4.80, 'b'), (0.78, 5.00, 'b'),
]
pantothenic = [
    (-0.60, 2.70, 'b'), (-0.52, 2.00, 'b'), (-0.48, 1.75, 'b'), (-0.45, 1.55, 'b'), (-0.42, 1.35, 'b'),
    (-0.38, 1.15, 'b'), (-0.34, 0.95, 'b'), (-0.30, 0.75, 'b'), (-0.26, 0.60, 'b'), (-0.22, 0.45, 'r'),
    (-0.18, 0.35, 'b'), (-0.13, 0.25, 'b'), (-0.08, 0.12, 'r'), (-0.03, 0.05, 'b'), (0.02, 0.03, 'r'),
    (0.07, 0.10, 'b'), (0.12, 0.18, 'r'), (0.17, 0.30, 'r'), (0.22, 0.45, 'r'), (0.27, 0.60, 'r'),
    (0.32, 0.80, 'r'), (0.37, 1.00, 'r'), (0.42, 1.20, 'r'), (0.47, 1.45, 'r'), (0.50, 1.65, 'r'),
    (0.53, 1.85, 'r'), (0.60, 2.40, 'r'),
]
phenylalanine = [
    (-0.72, 4.10, 'r'), (-0.71, 3.90, 'r'), (-0.69, 3.60, 'r'), (-0.67, 3.30, 'r'), (-0.65, 3.00, 'r'),
    (-0.62, 2.70, 'r'), (-0.59, 2.40, 'r'), (-0.56, 2.10, 'b'), (-0.53, 1.85, 'r'), (-0.50, 1.60, 'r'),
    (-0.46, 1.35, 'r'), (-0.42, 1.10, 'r'), (-0.38, 0.90, 'r'), (-0.34, 0.70, 'r'), (-0.30, 0.55, 'r'),
    (-0.25, 0.40, 'r'), (-0.20, 0.30, 'b'), (-0.15, 0.20, 'r'), (-0.08, 0.10, 'r'), (0.00, 0.02, 'b'),
    (0.06, 0.05, 'b'), (0.12, 0.12, 'b'), (0.18, 0.20, 'b'), (0.24, 0.35, 'b'), (0.30, 0.50, 'b'),
    (0.36, 0.70, 'b'), (0.42, 0.95, 'b'), (0.47, 1.20, 'b'), (0.52, 1.50, 'b'), (0.56, 1.80, 'b'),
    (0.60, 2.10, 'b'), (0.63, 2.40, 'b'), (0.65, 2.70, 'b'),
]
pimelate = [
    (-0.80, 5.30, 'b'), (-0.75, 4.40, 'b'), (-0.74, 4.20, 'b'), (-0.72, 3.90, 'b'), (-0.69, 3.50, 'b'),
    (-0.66, 3.10, 'b'), (-0.63, 2.70, 'b'), (-0.60, 2.40, 'b'), (-0.56, 2.10, 'b'), (-0.52, 1.80, 'b'),
    (-0.48, 1.50, 'b'), (-0.44, 1.25, 'b'), (-0.40, 1.00, 'b'), (-0.35, 0.80, 'b'), (-0.30, 0.60, 'b'),
    (-0.25, 0.45, 'b'), (-0.20, 0.30, 'b'), (-0.14, 0.20, 'b'), (-0.08, 0.10, 'b'), (0.00, 0.03, 'b'),
    (0.05, 0.05, 'r'), (0.10, 0.12, 'r'), (0.15, 0.20, 'b'), (0.20, 0.30, 'r'), (0.25, 0.45, 'r'),
    (0.30, 0.65, 'r'), (0.35, 0.85, 'b'), (0.40, 1.10, 'r'), (0.45, 1.40, 'r'), (0.50, 1.75, 'r'),
    (0.55, 2.10, 'r'), (0.60, 2.50, 'r'), (0.64, 2.90, 'r'), (0.68, 3.30, 'r'), (0.71, 3.70, 'r'),
    (0.73, 4.10, 'r'), (0.75, 4.50, 'r'), (0.80, 5.00, 'r'),
]
proline = [
    (-0.80, 5.40, 'r'), (-0.79, 5.10, 'r'), (-0.76, 4.50, 'r'), (-0.75, 4.00, 'r'), (-0.70, 3.10, 'r'),
    (-0.67, 2.90, 'r'), (-0.64, 2.60, 'r'), (-0.60, 2.30, 'r'), (-0.56, 2.00, 'r'), (-0.52, 1.70, 'r'),
    (-0.48, 1.40, 'r'), (-0.44, 1.15, 'r'), (-0.40, 0.95, 'b'), (-0.35, 0.75, 'r'), (-0.30, 0.55, 'r'),
    (-0.25, 0.40, 'r'), (-0.20, 0.30, 'r'), (-0.12, 0.18, 'r'), (-0.05, 0.08, 'b'), (0.00, 0.02, 'r'),
    (0.05, 0.05, 'r'), (0.10, 0.12, 'r'), (0.15, 0.20, 'b'), (0.20, 0.30, 'b'), (0.25, 0.45, 'b'),
    (0.30, 0.65, 'b'), (0.35, 0.85, 'b'), (0.40, 1.10, 'b'), (0.45, 1.40, 'b'), (0.50, 1.70, 'b'),
    (0.55, 2.10, 'b'), (0.60, 2.50, 'b'), (0.65, 3.00, 'b'), (0.70, 3.50, 'b'), (0.72, 4.10, 'b'),
    (0.80, 6.05, 'b'),
]
pyruvate = [
    (-0.82, 5.30, 'r'), (-0.75, 3.70, 'r'), (-0.70, 3.10, 'r'), (-0.67, 2.80, 'r'), (-0.63, 2.50, 'r'),
    (-0.60, 2.20, 'r'), (-0.56, 1.90, 'r'), (-0.52, 1.65, 'r'), (-0.48, 1.40, 'r'), (-0.44, 1.15, 'r'),
    (-0.40, 0.95, 'r'), (-0.35, 0.75, 'r'), (-0.30, 0.55, 'r'), (-0.25, 0.40, 'b'), (-0.18, 0.28, 'r'),
    (-0.12, 0.18, 'r'), (-0.06, 0.08, 'b'), (0.00, 0.02, 'b'), (0.06, 0.05, 'b'), (0.12, 0.12, 'b'),
    (0.18, 0.22, 'b'), (0.24, 0.35, 'b'), (0.30, 0.50, 'b'), (0.36, 0.70, 'b'), (0.42, 0.95, 'b'),
    (0.47, 1.25, 'b'), (0.52, 1.55, 'b'), (0.56, 1.85, 'b'), (0.60, 2.20, 'b'), (0.63, 2.50, 'b'),
    (0.66, 2.80, 'b'), (0.70, 3.70, 'b'),
]
ribose = [
    (-0.81, 5.50, 'b'), (-0.78, 4.80, 'b'), (-0.77, 4.75, 'b'), (-0.68, 3.60, 'b'), (-0.66, 3.30, 'b'),
    (-0.63, 3.00, 'b'), (-0.60, 2.70, 'b'), (-0.56, 2.30, 'b'), (-0.52, 2.00, 'b'), (-0.48, 1.70, 'b'),
    (-0.44, 1.40, 'b'), (-0.40, 1.15, 'b'), (-0.35, 0.90, 'b'), (-0.30, 0.70, 'b'), (-0.25, 0.50, 'b'),
    (-0.20, 0.35, 'b'), (-0.14, 0.20, 'b'), (-0.08, 0.10, 'b'), (-0.02, 0.03, 'r'), (0.04, 0.05, 'r'),
    (0.08, 0.12, 'r'), (0.12, 0.25, 'b'), (0.18, 0.35, 'r'), (0.24, 0.55, 'r'), (0.28, 0.70, 'r'),
    (0.33, 0.85, 'r'), (0.37, 1.15, 'b'), (0.40, 1.30, 'r'), (0.44, 1.55, 'r'), (0.48, 1.80, 'r'),
    (0.56, 2.40, 'r'), (0.60, 2.80, 'r'), (0.63, 3.10, 'r'), (0.66, 3.40, 'r'), (0.68, 3.60, 'r'),
    (0.71, 4.00, 'r'), (0.75, 4.80, 'r'),
]
ru5p = [
    (-0.82, 5.60, 'b'), (-0.79, 4.70, 'b'), (-0.77, 4.10, 'b'), (-0.76, 3.90, 'b'), (-0.72, 3.30, 'b'),
    (-0.70, 3.00, 'b'), (-0.67, 2.70, 'b'), (-0.64, 2.40, 'b'), (-0.60, 2.10, 'b'), (-0.56, 1.80, 'b'),
    (-0.52, 1.50, 'b'), (-0.48, 1.25, 'b'), (-0.44, 1.05, 'b'), (-0.40, 0.85, 'b'), (-0.35, 0.65, 'b'),
    (-0.22, 0.45, 'b'), (-0.18, 0.35, 'b'), (-0.12, 0.22, 'b'), (-0.06, 0.10, 'b'), (0.00, 0.03, 'r'),
    (0.04, 0.06, 'b'), (0.08, 0.12, 'r'), (0.14, 0.25, 'r'), (0.20, 0.50, 'b'), (0.24, 0.65, 'b'),
    (0.30, 0.80, 'r'), (0.36, 1.05, 'r'), (0.41, 1.35, 'r'), (0.46, 1.70, 'r'), (0.50, 2.00, 'r'),
    (0.53, 2.20, 'b'), (0.57, 2.60, 'r'), (0.60, 2.90, 'r'), (0.65, 3.40, 'r'), (0.68, 3.80, 'r'),
    (0.73, 4.25, 'r'), (0.88, 5.60, 'r'),
]
s7p = [
    (-0.73, 4.60, 'r'), (-0.52, 2.00, 'r'), (-0.49, 1.80, 'r'), (-0.46, 1.60, 'r'), (-0.43, 1.40, 'r'),
    (-0.40, 1.20, 'r'), (-0.36, 1.00, 'r'), (-0.32, 0.80, 'r'), (-0.28, 0.65, 'r'), (-0.24, 0.50, 'r'),
    (-0.20, 0.35, 'r'), (-0.15, 0.25, 'r'), (-0.10, 0.15, 'b'), (-0.05, 0.08, 'r'), (0.00, 0.03, 'b'),
    (0.05, 0.05, 'b'), (0.10, 0.12, 'b'), (0.13, 0.20, 'r'), (0.18, 0.30, 'b'), (0.23, 0.45, 'b'),
    (0.28, 0.60, 'b'), (0.33, 0.80, 'b'), (0.38, 1.00, 'b'), (0.43, 1.25, 'b'), (0.47, 1.55, 'b'),
    (0.51, 1.80, 'b'), (0.55, 2.10, 'b'), (0.58, 2.40, 'b'), (0.62, 2.90, 'b'),
]
serine = [
    (-0.80, 5.50, 'r'), (-0.72, 3.80, 'r'), (-0.70, 3.50, 'r'), (-0.67, 3.20, 'r'), (-0.64, 2.90, 'r'),
    (-0.60, 2.50, 'r'), (-0.57, 2.20, 'r'), (-0.53, 1.90, 'r'), (-0.50, 1.60, 'r'), (-0.46, 1.30, 'r'),
    (-0.42, 1.05, 'r'), (-0.38, 0.85, 'b'), (-0.34, 0.70, 'r'), (-0.30, 0.60, 'b'), (-0.25, 0.45, 'r'),
    (-0.20, 0.30, 'r'), (-0.14, 0.20, 'b'), (-0.08, 0.10, 'r'), (0.00, 0.02, 'b'), (0.06, 0.05, 'b'),
    (0.12, 0.15, 'b'), (0.18, 0.25, 'b'), (0.24, 0.40, 'r'), (0.30, 0.60, 'b'), (0.36, 0.85, 'b'),
    (0.42, 1.15, 'b'), (0.46, 1.40, 'b'), (0.55, 2.00, 'b'), (0.58, 2.40, 'b'), (0.62, 2.80, 'b'),
    (0.65, 3.20, 'b'), (0.68, 3.60, 'b'), (0.70, 4.00, 'b'), (0.73, 4.50, 'b'),
]
succinate = [
    (-0.82, 5.60, 'r'), (-0.80, 5.20, 'r'), (-0.78, 4.80, 'r'), (-0.76, 4.50, 'r'), (-0.74, 4.20, 'r'),
    (-0.72, 3.90, 'r'), (-0.70, 3.60, 'r'), (-0.68, 3.30, 'r'), (-0.65, 3.00, 'r'), (-0.62, 2.70, 'r'),
    (-0.58, 2.40, 'r'), (-0.55, 2.10, 'r'), (-0.52, 1.80, 'r'), (-0.48, 1.50, 'r'), (-0.44, 1.25, 'r'),
    (-0.40, 1.00, 'b'), (-0.35, 0.80, 'r'), (-0.30, 0.60, 'r'), (-0.25, 0.45, 'b'), (-0.20, 0.30, 'r'),
    (-0.14, 0.20, 'r'), (-0.08, 0.10, 'r'), (-0.02, 0.03, 'r'), (0.04, 0.05, 'b'), (0.10, 0.12, 'b'),
    (0.16, 0.25, 'b'), (0.22, 0.40, 'b'), (0.28, 0.60, 'b'), (0.34, 0.85, 'b'), (0.40, 1.15, 'b'),
    (0.45, 1.50, 'b'), (0.50, 1.85, 'b'), (0.55, 2.25, 'b'), (0.60, 2.70, 'b'), (0.65, 3.20, 'b'),
    (0.70, 3.80, 'b'), (0.74, 4.40, 'b'), (0.77, 5.00, 'b'), (0.80, 5.50, 'b'), (0.82, 6.00, 'b'),
    (0.84, 6.40, 'b'), (0.86, 6.80, 'b'),
]
uracil = [
    (-0.58, 2.50, 'b'), (-0.56, 2.30, 'b'), (-0.52, 2.00, 'b'), (-0.48, 1.75, 'b'), (-0.44, 1.50, 'b'),
    (-0.40, 1.25, 'b'), (-0.36, 1.00, 'b'), (-0.32, 0.80, 'b'), (-0.28, 0.60, 'b'), (-0.24, 0.45, 'b'),
    (-0.20, 0.35, 'b'), (-0.15, 0.25, 'r'), (-0.10, 0.15, 'b'), (-0.05, 0.08, 'b'), (0.00, 0.03, 'b'),
    (0.05, 0.05, 'r'), (0.10, 0.12, 'r'), (0.15, 0.20, 'r'), (0.20, 0.30, 'r'), (0.25, 0.45, 'r'),
    (0.30, 0.60, 'r'), (0.35, 0.80, 'r'), (0.40, 1.00, 'r'), (0.45, 1.25, 'r'), (0.50, 1.50, 'r'),
    (0.53, 1.75, 'r'), (0.56, 1.95, 'r'), (0.60, 2.40, 'r'),
]
valine = [
    (-0.72, 3.70, 'r'), (-0.70, 3.40, 'r'), (-0.67, 3.00, 'r'), (-0.64, 2.70, 'r'), (-0.60, 2.35, 'b'),
    (-0.57, 2.10, 'r'), (-0.53, 1.80, 'r'), (-0.50, 1.55, 'r'), (-0.46, 1.30, 'r'), (-0.42, 1.05, 'r'),
    (-0.38, 0.85, 'r'), (-0.33, 0.65, 'r'), (-0.28, 0.50, 'b'), (-0.22, 0.35, 'r'), (-0.16, 0.22, 'r'),
    (-0.10, 0.12, 'r'), (-0.04, 0.05, 'r'), (0.02, 0.02, 'b'), (0.08, 0.08, 'b'), (0.14, 0.18, 'b'),
    (0.20, 0.30, 'b'), (0.26, 0.45, 'b'), (0.32, 0.65, 'b'), (0.38, 0.90, 'b'), (0.44, 1.20, 'b'),
    (0.50, 1.60, 'b'), (0.55, 2.00, 'b'), (0.60, 2.50, 'b'), (0.64, 3.00, 'b'), (0.68, 3.60, 'b'),
    (0.72, 4.30, 'b'),
]

panels = [
    ("2-Hydroxybutyrate", hydroxybutyrate), ("2-Hydroxyglutarate", hydroxyglutarate),
    ("3-Hydroxypropionate", hydroxypropionate), ("Alanine", alanine),
    ("Alpha-Keto-Beta-Methylvalerate", akbmv), ("Alpha-Ketoglutarate", akg),
    ("Alpha-Ketoisocaproate", akic), ("Arachidonate", arachidonate), ("Asparagine", asparagine),
    ("Beta Alanine", beta_alanine), ("Butyrate", butyrate), ("Chenodeoxycholic Acid", cdca),
    ("Creatinine", creatinine), ("Cysteine", cysteine), ("Deoxycholic Acid", dca),
    ("Fructose-6-Phosphate", f6p), ("Glucose-6-Phosphate", g6p), ("Glutamine", glutamine),
    ("Glycerate", glycerate), ("Heptadecanoic Acid", heptadecanoic), ("Histamine", histamine),
    ("Hypotaurine", hypotaurine), ("Indoleacetic Acid", iaa), ("Inotisol", inotisol),
    ("Isoleucine", isoleucine), ("Kynurenine", kynurenine), ("Lactate", lactate),
    ("Leucine", leucine), ("Linolenic Acid", linolenic), ("Malate", malate),
    ("Malonate", malonate), ("Methionine", methionine), ("Methylmalonate", methylmalonate),
    ("Mevalonic Acid", mevalonic), ("Nonanoic Acid", nonanoic), ("Ornithine", ornithine),
    ("Palmitate", palmitate), ("Pantothenic Acid", pantothenic), ("Phenylalanine", phenylalanine),
    ("Pimelate", pimelate), ("Proline", proline), ("Pyruvate", pyruvate), ("Ribose", ribose),
    ("Ribulose-5-Phosphate", ru5p), ("Sedoheptulose-7-Phosphate", s7p), ("Serine", serine),
    ("Succinate", succinate), ("Uracil", uracil), ("Valine", valine),
]

x_ticks = [-0.5, 0.0, 0.5]
x_ticklabels = ["-0.5", "0.0", "0.5"]
y_ticks = [0, 2, 4, 6]
sig_line = 1.3  # -log10(0.05)

sns.set_style("white")
plt.rcParams['font.family'] = ['Liberation Sans', 'DejaVu Sans']
plt.rcParams['font.weight'] = 'bold'
plt.rcParams['mathtext.fontset'] = 'custom'
plt.rcParams['mathtext.rm'] = 'Liberation Sans:bold'
plt.rcParams['mathtext.it'] = 'Liberation Sans:bold:italic'
plt.rcParams['mathtext.bf'] = 'Liberation Sans:bold'

palette = {'r': '#FF0000', 'b': '#0000FF'}

fig, axes = plt.subplots(7, 7, figsize=(10.5, 7.5), dpi=300)
fig.subplots_adjust(left=0.0308, right=0.9952, top=0.9689, bottom=0.044,
                    wspace=0.05, hspace=0.303)

for i, (name, pts) in enumerate(panels):
    row, col = divmod(i, 7)
    ax = axes[row, col]
    df = pd.DataFrame(pts, columns=['rho', 'logp', 'grp'])
    ax.axhline(sig_line, color='black', linestyle=(0, (4.6, 2.7)), linewidth=1.0, zorder=1)
    sns.scatterplot(data=df, x='rho', y='logp', hue='grp', palette=palette,
                    s=13, linewidth=0, legend=False, ax=ax, zorder=2)
    ax.set_xlim(-0.96, 0.96)
    ax.set_ylim(-0.35, 7.42)
    ax.set_xlabel('')
    ax.set_ylabel('')
    ax.set_xticks(x_ticks)
    ax.set_yticks(y_ticks)
    for s in ax.spines.values():
        s.set_visible(False)
    first_col = col == 0
    last_row = row == 6
    if first_col:
        ax.spines['left'].set_visible(True)
        ax.spines['left'].set_color('black')
        ax.spines['left'].set_linewidth(1.0)
    if last_row:
        ax.spines['bottom'].set_visible(True)
        ax.spines['bottom'].set_color('black')
        ax.spines['bottom'].set_linewidth(1.0)
    ax.tick_params(axis='y', left=first_col, labelleft=first_col, length=2.5, width=0.8,
                   pad=1.5, labelsize=6.2, colors='black')
    ax.tick_params(axis='x', bottom=last_row, labelbottom=last_row, length=2.5, width=0.8,
                   pad=1.5, labelsize=6.2, colors='black')
    if last_row:
        ax.set_xticklabels(x_ticklabels, fontweight='bold')
    if first_col:
        ax.set_yticklabels([str(t) for t in y_ticks], fontweight='bold')
    ax.grid(False)

    # strip box above each panel
    ax.add_patch(Rectangle((0, 1.006), 1, 0.214, transform=ax.transAxes, clip_on=False,
                           facecolor='white', edgecolor='black', linewidth=1.0))
    ax.text(0.5, 1.113, name, transform=ax.transAxes, ha='center', va='center',
            fontsize=6.7, fontweight='bold', color='black')

fig.text(0.513, 0.016, 'Spearman Correlation Coefficient', ha='center', va='center',
         fontsize=8.25, fontweight='bold')
fig.text(0.0102, 0.4956, r'-Log$_{10}$($p$)', ha='center', va='center', rotation=90,
         fontsize=8.25, fontweight='bold')

fig.savefig('out.png', dpi=300)
